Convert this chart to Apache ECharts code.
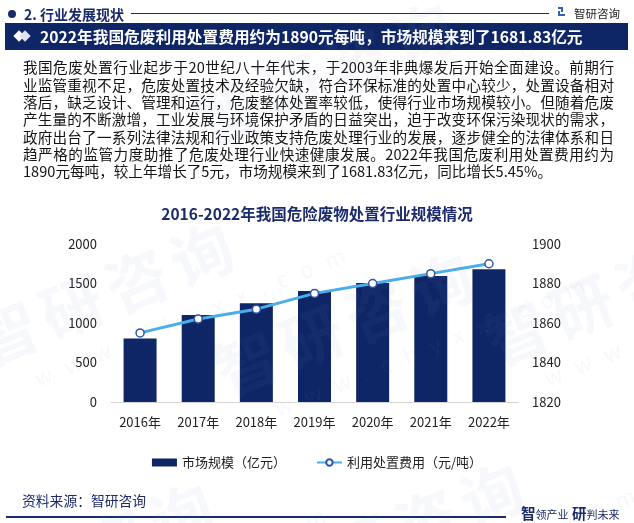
<!DOCTYPE html>
<html>
<head>
<meta charset="utf-8">
<script src="https://cdn.jsdelivr.net/npm/echarts@6/dist/echarts.min.js"></script>
<style>
  html, body { margin:0; padding:0; background:#fff; }
  #page { position:relative; width:634px; height:523px; overflow:hidden; font-family:"Noto Sans CJK SC","Noto Sans",sans-serif; background:#fff; }
  #chart { position:absolute; left:0; top:0; width:634px; height:523px; }
  .abs { position:absolute; white-space:nowrap; }
  .pline { position:absolute; left:23px; width:591px; height:17.3px; line-height:17.3px; font-size:14.6px; color:#141414; text-align:justify; text-align-last:justify; white-space:nowrap; }
  .pline.last { text-align-last:left; }
  .wm { position:absolute; white-space:nowrap; color:rgba(120,150,190,0.065); pointer-events:none; transform-origin:left top; }
  .wm .big { font-size:62px; font-weight:bold; letter-spacing:8px; }
  .wm .url { font-size:22px; letter-spacing:14px; display:block; margin-left:40px; margin-top:-6px; }
</style>
</head>
<body>
<div id="page">
  <div id="chart"></div>

  <!-- header -->
  <div class="abs" style="left:8px;top:10px;width:8px;height:8px;border-radius:50%;background:#1b2a6b;"></div>
  <div class="abs" style="left:24px;top:4px;font-size:14px;font-weight:bold;color:#1b2a6b;line-height:20px;">2. 行业发展现状</div>
  <div class="abs" style="left:131px;top:13px;width:418px;height:1px;background:#1b2a6b;"></div>
  <div class="abs" style="left:558px;top:7px;width:7px;height:9px;">
    <div class="abs" style="left:0;top:0;width:5px;height:2px;background:#2f63b5;"></div>
    <div class="abs" style="left:3px;top:0;width:2px;height:5px;background:#2f63b5;"></div>
    <div class="abs" style="left:0;top:4px;width:2px;height:5px;background:#2f63b5;"></div>
    <div class="abs" style="left:0;top:7px;width:7px;height:2px;background:#2f63b5;"></div>
  </div>
  <div class="abs" style="left:574px;top:4px;font-size:11.5px;color:#222;line-height:18px;">智研咨询</div>

  <!-- banner -->
  <div class="abs" style="left:5px;top:23px;width:623px;height:27px;background:#0e2566;"></div>
  <div class="abs" style="left:15px;top:32px;width:8px;height:8px;background:#fff;transform:rotate(45deg);"></div>
  <div class="abs" style="left:21px;top:32px;width:8px;height:8px;background:#dfe3ee;transform:rotate(45deg);"></div>
  <div class="abs" style="left:40px;top:25px;font-size:15.7px;font-weight:bold;color:#fff;line-height:24px;">2022年我国危废利用处置费用约为1890元每吨，市场规模来到了1681.83亿元</div>

  <!-- paragraph -->
  <div class="pline" style="top:58.4px;">我国危废处置行业起步于20世纪八十年代末，于2003年非典爆发后开始全面建设。前期行</div>
  <div class="pline" style="top:75.7px;">业监管重视不足，危废处置技术及经验欠缺，符合环保标准的处置中心较少，处置设备相对</div>
  <div class="pline" style="top:93.0px;">落后，缺乏设计、管理和运行，危废整体处置率较低，使得行业市场规模较小。但随着危废</div>
  <div class="pline" style="top:110.3px;">产生量的不断激增，工业发展与环境保护矛盾的日益突出，迫于改变环保污染现状的需求，</div>
  <div class="pline" style="top:127.6px;">政府出台了一系列法律法规和行业政策支持危废处理行业的发展，逐步健全的法律体系和日</div>
  <div class="pline" style="top:144.9px;">趋严格的监管力度助推了危废处理行业快速健康发展。2022年我国危废利用处置费用约为</div>
  <div class="pline last" style="top:162.2px;">1890元每吨，较上年增长了5元，市场规模来到了1681.83亿元，同比增长5.45%。</div>

  <!-- footer -->
  <div class="abs" style="left:22px;top:490px;font-size:13.8px;color:#1b2a6b;line-height:20px;">资料来源：智研咨询</div>
  <div class="abs" style="left:6px;top:516px;width:500px;height:1.5px;background:#1b2a6b;"></div>
  <div class="abs" style="left:521px;top:502px;color:#1b2a6b;line-height:20px;">
    <span style="font-size:14.5px;font-weight:bold;">智</span><span style="font-size:11px;">领产业</span>
    <span style="font-size:14.5px;font-weight:bold;">研</span><span style="font-size:11px;">判未来</span>
  </div>

  <!-- watermarks -->
  <div class="wm" style="left:-40px;top:300px;transform:rotate(-22deg);"><span class="big">智研咨询</span><span class="url">www.chyxx.com</span></div>
  <div class="wm" style="left:200px;top:330px;transform:rotate(-22deg);"><span class="big">智研咨询</span><span class="url">www.chyxx.com</span></div>
  <div class="wm" style="left:470px;top:300px;transform:rotate(-22deg);"><span class="big">智研咨询</span><span class="url">www.chyxx.com</span></div>
  <div class="wm" style="left:180px;top:80px;transform:rotate(-22deg);"><span class="big">智研咨询</span><span class="url">www.chyxx.com</span></div>
  <div class="wm" style="left:250px;top:540px;transform:rotate(-22deg);"><span class="big">智研咨询</span><span class="url">www.chyxx.com</span></div>
  <div class="wm" style="left:-60px;top:560px;transform:rotate(-22deg);"><span class="big">智研咨询</span><span class="url">www.chyxx.com</span></div>
</div>
<script>
const categories = ['2016年','2017年','2018年','2019年','2020年','2021年','2022年'];
const marketSize = [805, 1100, 1250, 1405, 1505, 1595, 1681.83];
const disposalCost = [1855, 1862, 1867, 1875, 1880, 1885, 1890];
const leftTicks = { min: 0, max: 2000, interval: 500 };
const rightTicks = { min: 1820, max: 1900, interval: 20 };
const seriesNames = ['市场规模（亿元）', '利用处置费用（元/吨）'];
const chartTitle = '2016-2022年我国危险废物处置行业规模情况';

const FONT = '"Noto Sans CJK SC","Noto Sans",sans-serif';
const chart = echarts.init(document.getElementById('chart'), null, { renderer: 'canvas' });
const axisLabelStyle = { color: '#222', fontSize: 13, fontFamily: FONT, margin: 14,
  formatter: function (v) { return String(v); } };
chart.setOption({
  backgroundColor: 'transparent',
  animation: false,
  textStyle: { fontFamily: FONT },
  title: {
    text: chartTitle, left: 'center', top: 201,
    textStyle: { color: '#1b2a6b', fontSize: 15.5, fontWeight: 'bold', fontFamily: FONT }
  },
  grid: { left: 111, right: 116, top: 244, bottom: 121, containLabel: false },
  legend: {
    top: 451, left: 'center', itemWidth: 25, itemHeight: 8, itemGap: 30,
    textStyle: { color: '#222', fontSize: 13, fontFamily: FONT },
    data: [{ name: seriesNames[0], icon: 'rect' }, { name: seriesNames[1] }]
  },
  xAxis: {
    type: 'category', data: categories,
    axisLine: { lineStyle: { color: '#d4d4d4' } },
    axisTick: { show: false },
    axisLabel: { color: '#222', fontSize: 13, fontFamily: FONT, margin: 14 }
  },
  yAxis: [
    { type: 'value', min: leftTicks.min, max: leftTicks.max, interval: leftTicks.interval,
      axisLine: { show: false }, axisTick: { show: false }, splitLine: { show: false },
      axisLabel: axisLabelStyle },
    { type: 'value', min: rightTicks.min, max: rightTicks.max, interval: rightTicks.interval,
      axisLine: { show: false }, axisTick: { show: false }, splitLine: { show: false },
      axisLabel: axisLabelStyle }
  ],
  series: [
    { name: seriesNames[0], type: 'bar', data: marketSize, barWidth: 33,
      itemStyle: { color: '#0e2566' } },
    { name: seriesNames[1], type: 'line', yAxisIndex: 1, data: disposalCost,
      symbol: 'circle', symbolSize: 8,
      lineStyle: { color: '#4aaeea', width: 3 },
      itemStyle: { color: '#ffffff', borderColor: '#2e55a6', borderWidth: 1.5 } }
  ]
});
</script>
</body>
</html>
